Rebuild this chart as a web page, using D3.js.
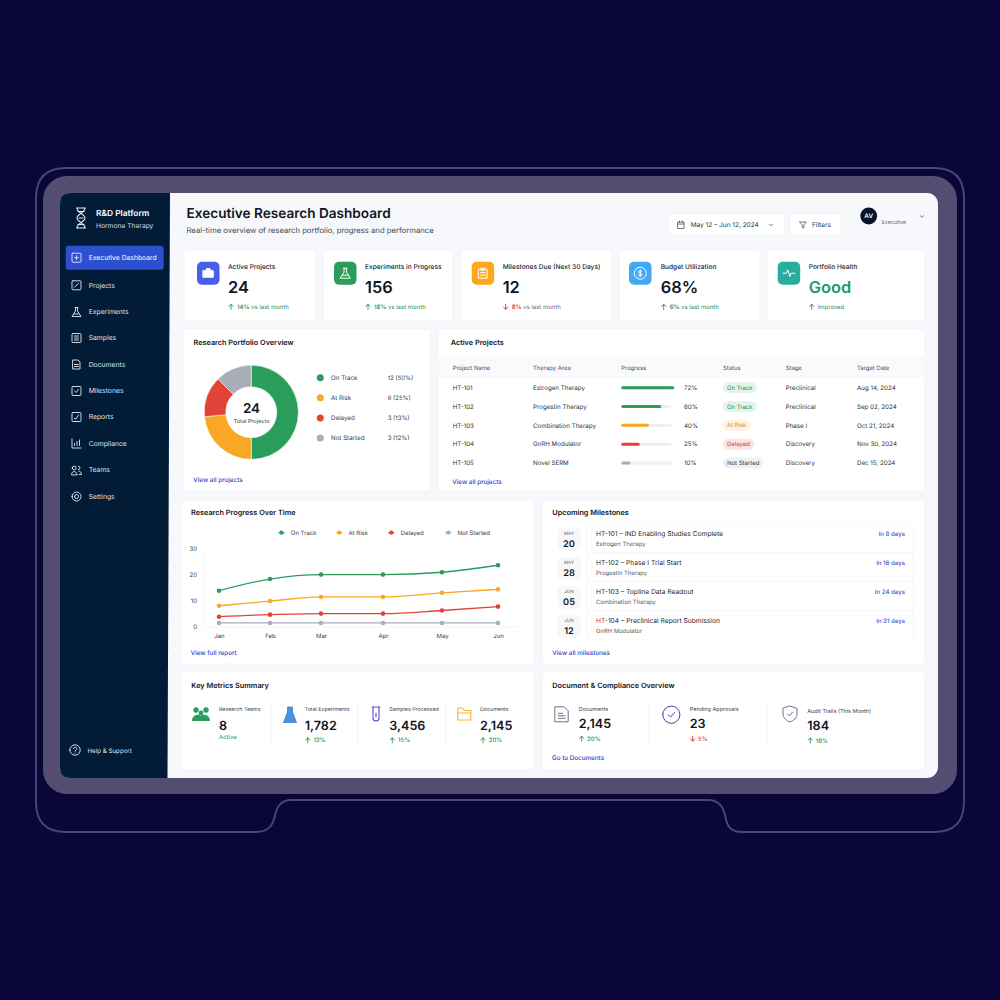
<html lang="en">
  <head>
    <meta charset="utf-8">
    <title>Executive Research Dashboard</title>
    <script src="https://d3js.org/d3.v7.min.js"></script>
    <style>
      html, body { margin: 0; padding: 0; background: #0b0638; }
      svg { display: block; }
      text { font-family: Inter, "Noto Sans", sans-serif; text-rendering: geometricPrecision; }
    </style>
  </head>
  <body>
    <script type="text/javascript">
      // data
      var navItems = ["Executive Dashboard", "Projects", "Experiments", "Samples", "Documents", "Milestones", "Reports", "Compliance", "Teams", "Settings"];
      var kpiLabels = ["Active Projects", "Experiments in Progress", "Milestones Due (Next 30 Days)", "Budget Utilization", "Portfolio Health"];
      var kpiValues = ["24", "156", "12", "68%", "Good"];
      var kpiChange = ["14%", "18%", "8%", "6%", ""];
      var kpiNotes = ["vs last month", "vs last month", "vs last month", "vs last month", "Improved"];
      var kpiDirection = ["up", "up", "down", "up", "up"];

      var portfolioStatus = ["On Track", "At Risk", "Delayed", "Not Started"];
      var portfolioLegend = ["12 (50%)", "6 (25%)", "3 (13%)", "3 (12%)"];
      var portfolioShare = [50, 23.5, 14, 12.5];

      var projectIds = ["HT-101", "HT-102", "HT-103", "HT-104", "HT-105"];
      var projectAreas = ["Estrogen Therapy", "Progestin Therapy", "Combination Therapy", "GnRH Modulator", "Novel SERM"];
      var projectProgress = [72, 60, 40, 25, 10];
      var projectStatus = ["On Track", "On Track", "At Risk", "Delayed", "Not Started"];
      var projectStage = ["Preclinical", "Preclinical", "Phase I", "Discovery", "Discovery"];
      var projectDates = ["Aug 14, 2024", "Sep 02, 2024", "Oct 21, 2024", "Nov 30, 2024", "Dec 15, 2024"];
      var tableHeads = ["Project Name", "Therapy Area", "Progress", "Status", "Stage", "Target Date"];

      var months = ["Jan", "Feb", "Mar", "Apr", "May", "Jun"];
      var onTrack = [13.8, 18.3, 20, 20, 20.9, 23.6];
      var atRisk = [8, 9.8, 11.4, 11.4, 13, 14.3];
      var delayed = [3.8, 4.6, 5, 5, 6.2, 7.7];
      var notStarted = [1.4, 1.4, 1.4, 1.4, 1.4, 1.4];
      var yTicks = [0, 10, 20, 30];

      var msMonths = ["MAY", "MAY", "JUN", "JUN"];
      var msDays = ["20", "28", "05", "12"];
      var msTitles = ["HT-101 – IND Enabling Studies Complete", "HT-102 – Phase I Trial Start", "HT-103 – Topline Data Readout", "HT-104 – Preclinical Report Submission"];
      var msAreas = ["Estrogen Therapy", "Progestin Therapy", "Combination Therapy", "GnRH Modulator"];
      var msDue = ["In 8 days", "In 16 days", "In 24 days", "In 31 days"];

      var metricLabels = ["Research Teams", "Total Experiments", "Samples Processed", "Documents"];
      var metricValues = ["8", "1,782", "3,456", "2,145"];
      var metricNotes = ["Active", "12%", "15%", "20%"];

      var docLabels = ["Documents", "Pending Approvals", "Audit Trails (This Month)"];
      var docValues = ["2,145", "23", "184"];
      var docChange = ["20%", "5%", "18%"];
      var docDirection = ["up", "down", "up"];

      var green = "#2a9d5c", amber = "#f9a825", red = "#e04436", grey = "#a9adb8";
      var link = "#2f3fc7", ink = "#11151f", body = "#343a46", muted = "#6b7280", upGreen = "#2b9160";

      var statusColor = d3.scaleOrdinal().domain(portfolioStatus).range([green, amber, red, grey]);
      var pillFill = d3.scaleOrdinal().domain(portfolioStatus).range(["#e4f5ea", "#fdf2e2", "#fbe4e4", "#eef0f4"]);
      var pillText = d3.scaleOrdinal().domain(portfolioStatus).range(["#1f8a55", "#e58a2c", "#d9363e", "#3a414d"]);

      var svg = d3.select("body").append("svg").attr("width", 1000).attr("height", 1000);

      function txt(g, x, y, s, size, weight, fill, anchor) {
        return g.append("text").attr("x", x).attr("y", y).text(s)
          .attr("font-size", size).attr("font-weight", weight || 400)
          .attr("fill", fill || body).attr("text-anchor", anchor || "start");
      }
      function card(x, y, w, h) {
        return svg.append("rect").attr("x", x).attr("y", y).attr("width", w).attr("height", h)
          .attr("rx", 3).attr("fill", "#fff").attr("stroke", "#eff1f6").attr("stroke-width", 0.7);
      }
      function icon(g, x, y, paths, color, sw, fill) {
        var i = g.append("g").attr("transform", "translate(" + x + "," + y + ")");
        paths.forEach(function(p) {
          i.append("path").attr("d", p).attr("fill", fill || "none").attr("stroke", color)
            .attr("stroke-width", sw || 1).attr("stroke-linecap", "round").attr("stroke-linejoin", "round");
        });
        return i;
      }
      function arrow(g, x, y, dir, color) {
        var d = dir == "up" ? "M0,2.6V-2.4M-2.1,-0.3L0,-2.6L2.1,-0.3" : "M0,-2.6V2.4M-2.1,0.3L0,2.6L2.1,0.3";
        icon(g, x, y, [d], color, 0.9);
      }
      function circlePath(r) {
        return "M" + (-r) + ",0A" + r + "," + r + " 0 1 1 " + r + ",0A" + r + "," + r + " 0 1 1 " + (-r) + ",0Z";
      }

      // device frame
      svg.append("rect").attr("width", 1000).attr("height", 1000).attr("fill", "#0b0638");
      svg.append("path")
        .attr("d", "M66,168H934Q964,168 964,198V802Q964,832 934,832H742C730,832 727,826 725,815C723,806 718,800 708,800H291C281,800 277,806 275,815C273,826 268,832 256,832H66Q36,832 36,802V198Q36,168 66,168Z")
        .attr("fill", "none").attr("stroke", "#4a4573").attr("stroke-width", 1.9);
      svg.append("rect").attr("x", 43).attr("y", 176).attr("width", 914).attr("height", 618).attr("rx", 24).attr("fill", "#534d72");
      svg.append("rect").attr("x", 60).attr("y", 193).attr("width", 878).attr("height", 585).attr("rx", 11).attr("fill", "#f6f8fb");
      svg.append("path").attr("d", "M170,193H71Q60,193 60,204V767Q60,778 71,778H167.5Z").attr("fill", "#021b36");

      // sidebar
      var side = svg.append("g");
      icon(side, 81, 218, ["M-4,-10C-4,-5 4,-4 4,0C4,4 -4,5 -4,10", "M4,-10C4,-5 -4,-4 -4,0C-4,4 4,5 4,10", "M-4,-10H4M-3,-6.5H3M-2,0H2M-3,6.5H3M-4,10H4"], "#e9edf5", 1.1);
      txt(side, 96, 216, "R&D Platform", 8.4, 600, "#fff");
      txt(side, 96, 228, "Hormone Therapy", 6.7, 400, "#d5dbe6");
      side.append("rect").attr("x", 65.7).attr("y", 245.7).attr("width", 98).attr("height", 24).attr("rx", 3).attr("fill", "#2d4fd0");
      var navY = [257.7, 285.3, 312, 338, 364.5, 391, 417, 443.5, 470, 496.5];
      var box = "M-3.5,-4.5H3.5Q4.5,-4.5 4.5,-3.5V3.5Q4.5,4.5 3.5,4.5H-3.5Q-4.5,4.5 -4.5,3.5V-3.5Q-4.5,-4.5 -3.5,-4.5Z";
      var navIcons = [
        [box, "M0,-2V2M-2,0H2"], [box, "M-2,2L2,-2"],
        ["M-1.5,-4.5H1.5M-1,-4.5V-1L-4.5,4.5H4.5L1,-1V-4.5", "M-2.5,2H2.5"],
        [box, "M-2,-2H2M-2,0H2M-2,2H2"],
        ["M-3.5,-4.5H1.5L3.5,-2.5V4.5H-3.5Z", "M-2,0H2M-2,2H2"],
        [box, "M-2,0L-0.5,1.5L2,-1.5"], [box, "M-2,1.5L-0.5,2L2,-2"],
        ["M-4.5,-4.5V4.5H4.5", "M-2,2V0M0.5,2V-2M3,2V-3.5"],
        ["M-4.2,-2A1.9,1.9 0 1 1 -0.4,-2A1.9,1.9 0 1 1 -4.2,-2Z", "M-5,4.5C-5,0.5 0.2,0.5 0.6,4.5Z", "M1.8,-3.8A1.7,1.7 0 1 1 1.8,-0.4", "M2.2,1C4,1.2 5,2.6 5,4.5H2.6"],
        [circlePath(2), circlePath(4.5)]
      ];
      navItems.forEach(function(n, i) {
        icon(side, 76.5, navY[i], navIcons[i], "#e6eaf2", 0.9);
        txt(side, 88.7, navY[i] + 2.4, n, 6.8, 400, i == 0 ? "#fff" : "#dfe4ee");
      });
      icon(side, 75, 750, [circlePath(5.2), "M-1.6,-1.4C-1.6,-3.4 1.8,-3.4 1.8,-1.2C1.8,0.2 0,0 0,1.4", "M0,3V3.1"], "#e6eaf2", 0.9);
      txt(side, 87.5, 752.5, "Help & Support", 6.2, 400, "#e3e7f0");

      // header
      var head = svg.append("g");
      txt(head, 186.5, 217.5, "Executive Research Dashboard", 13.6, 600, ink);
      txt(head, 186.5, 232.8, "Real-time overview of research portfolio, progress and performance", 7.7, 400, "#444b58");
      [[668.3, 116], [789.7, 51.6]].forEach(function(b) {
        head.append("rect").attr("x", b[0]).attr("y", 213.3).attr("width", b[1]).attr("height", 22).attr("rx", 3)
          .attr("fill", "#fff").attr("stroke", "#e9ecf2").attr("stroke-width", 0.7);
      });
      icon(head, 681, 225, ["M-3,-3H3V3.5H-3Z", "M-3,-1H3M-1.5,-4V-2.5M1.5,-4V-2.5"], "#3b4250", 0.7);
      txt(head, 690.7, 227.3, "May 12 – Jun 12, 2024", 6.5, 400, "#2c3340");
      icon(head, 771, 225, ["M-1.8,-0.8L0,0.8L1.8,-0.8"], "#4b5260", 0.7);
      icon(head, 803, 225, ["M-3.2,-3H3.2L0.8,0V3.2L-0.8,2.4V0Z"], "#3b4250", 0.7);
      txt(head, 812, 227.3, "Filters", 6.5, 400, "#2c3340");
      head.append("circle").attr("cx", 868.7).attr("cy", 216).attr("r", 8.4).attr("fill", "#06122b");
      txt(head, 868.7, 218.3, "AV", 6.3, 600, "#fff", "middle");
      txt(head, 881.7, 223.6, "Executive", 5.3, 400, "#606773");
      icon(head, 922, 216.5, ["M-1.6,-0.7L0,0.7L1.6,-0.7"], "#4b5260", 0.7);

      // kpi cards
      var kpiBox = [[184, 132], [323, 130], [461, 151], [619, 141], [767, 158]];
      var kpiIconX = [197, 334, 471.7, 629, 777.7];
      var kpiTextX = [228, 365, 502.7, 660.7, 808.7];
      var kpiFill = ["#4a5ee8", green, "#fba81f", "#45a8f5", "#27ae9e"];
      var kpiGlyph = [
        ["M-5,-2.5H5V4H-5Z", "M-2,-2.5V-4.5H2V-2.5", "M-5,0.5H5"],
        ["M-1.8,-5H1.8M-1.2,-5V-1L-5,5H5L1.2,-1V-5", "M-3,2H3"],
        ["M-4.2,-4H4.2V5H-4.2Z", "M-1.8,-5H1.8V-3H-1.8Z", "M-2.5,-0.5H2.5M-2.5,2H2.5"],
        [circlePath(6), "M1.7,-1.7C0.8,-3 -2,-2.6 -1.8,-1C-1.6,0.6 1.8,-0.4 1.8,1.3C1.8,2.9 -1,3.1 -1.9,1.8", "M0,-3.5V3.5"],
        ["M-6,0H-2.6L-1.2,-3.4L1,3.4L2.2,0H6"]
      ];
      kpiLabels.forEach(function(l, i) {
        card(kpiBox[i][0], 250, kpiBox[i][1], 71);
        var g = svg.append("g");
        g.append("rect").attr("x", kpiIconX[i]).attr("y", 261.7).attr("width", 22.5).attr("height", 23).attr("rx", 5).attr("fill", kpiFill[i]);
        icon(g, kpiIconX[i] + 11.25, 273.2, kpiGlyph[i], "#fff", 1, i == 0 ? "#fff" : "none");
        var x = kpiTextX[i];
        txt(g, x, 269.3, l, 6.6, 500, "#1e2430");
        txt(g, x, 293, kpiValues[i], 16.4, 600, i == 4 ? "#1b9a6c" : ink);
        var col = kpiDirection[i] == "up" ? upGreen : "#d9363e";
        arrow(g, x + 3, 306.8, kpiDirection[i], col);
        var t = txt(g, x + 9, 309, "", 6, 400, i == 2 ? muted : upGreen);
        if (kpiChange[i]) t.append("tspan").attr("font-weight", 600).attr("fill", col).text(kpiChange[i] + " ");
        t.append("tspan").text(kpiNotes[i]);
      });

      // portfolio donut
      card(183, 329, 247, 162);
      var pg = svg.append("g");
      txt(pg, 193.5, 345, "Research Portfolio Overview", 7.3, 600, ink);
      var pie = d3.pie().sort(null).value(function(d) { return d; });
      var arc = d3.arc().innerRadius(25.5).outerRadius(47);
      var donut = pg.append("g").attr("transform", "translate(251.3,412.3)");
      donut.selectAll("path").data(pie(portfolioShare)).enter().append("path")
        .attr("d", arc)
        .attr("fill", function(d, i) { return statusColor(portfolioStatus[i]); })
        .attr("stroke", "#fff").attr("stroke-width", 0.5);
      txt(pg, 251.5, 413, "24", 13.5, 600, ink, "middle");
      txt(pg, 251.5, 422.6, "Total Projects", 5.6, 400, body, "middle");
      var legendY = d3.scalePoint().domain(portfolioStatus).range([377.7, 438]);
      portfolioStatus.forEach(function(s, i) {
        pg.append("circle").attr("cx", 320.3).attr("cy", legendY(s)).attr("r", 3.5).attr("fill", statusColor(s));
        txt(pg, 331, legendY(s) + 2.2, s, 6.2, 400, body);
        txt(pg, 387.7, legendY(s) + 2.2, portfolioLegend[i], 6, 400, body);
      });
      txt(pg, 193.3, 481.7, "View all projects", 6.3, 500, link);

      // active projects table
      card(438, 329, 487, 162);
      var tg = svg.append("g");
      txt(tg, 450.7, 345, "Active Projects", 7.3, 600, ink);
      tg.append("rect").attr("x", 439).attr("y", 357).attr("width", 485).attr("height", 21).attr("fill", "#f9fafc");
      var colX = [452.7, 533, 621.3, 722.7, 785.7, 857];
      tableHeads.forEach(function(h, i) {
        txt(tg, i == 3 ? 723 : colX[i], 370.1, h, 5.9, 400, "#4a515e");
      });
      var rowY = d3.scalePoint().domain(projectIds).range([387.7, 463]);
      var barW = d3.scaleLinear().domain([0, 60, 72]).range([0, 37, 50]);
      projectIds.forEach(function(id, i) {
        var y = rowY(id);
        txt(tg, colX[0], y + 2.2, id, 6.2, 400, "#2a303c");
        txt(tg, colX[1], y + 2.2, projectAreas[i], 6.2, 400, "#2a303c");
        tg.append("line").attr("x1", 622.8).attr("x2", 670).attr("y1", y).attr("y2", y)
          .attr("stroke", "#eceef2").attr("stroke-width", 3).attr("stroke-linecap", "round");
        tg.append("line").attr("x1", 622.8).attr("x2", 622.8 + barW(projectProgress[i])).attr("y1", y).attr("y2", y)
          .attr("stroke", statusColor(projectStatus[i])).attr("stroke-width", 3).attr("stroke-linecap", "round");
        txt(tg, 684, y + 2.2, projectProgress[i] + "%", 6.2, 400, "#2a303c");
        var pill = tg.append("rect").attr("x", colX[3]).attr("y", y - 5.5).attr("height", 11).attr("rx", 5.5).attr("fill", pillFill(projectStatus[i]));
        var st = txt(tg, colX[3] + 4.2, y + 2.1, projectStatus[i], 6, 400, pillText(projectStatus[i]));
        pill.attr("width", st.node().getComputedTextLength() + 8.4);
        txt(tg, colX[4], y + 2.2, projectStage[i], 6.2, 400, "#2a303c");
        txt(tg, colX[5], y + 2.2, projectDates[i], 6.2, 400, "#2a303c");
      });
      txt(tg, 452.3, 483.5, "View all projects", 6.3, 500, link);

      // research progress line chart
      card(181, 500, 353, 164);
      var lg = svg.append("g");
      txt(lg, 191, 515.2, "Research Progress Over Time", 7.3, 600, ink);
      var xScale = d3.scaleOrdinal().domain(months).range([219, 270, 321, 383, 442, 498]);
      var yScale = d3.scaleLinear().domain([0, 30]).range([626.6, 548.6]);
      var xAxis = d3.axisBottom().scale(xScale).tickSize(0).tickPadding(7);
      var yAxis = d3.axisLeft().scale(yScale).tickValues(yTicks).tickSize(0).tickPadding(6);
      lg.append("line").attr("x1", 204).attr("x2", 519).attr("y1", 627).attr("y2", 627).attr("stroke", "#f0f2f6").attr("stroke-width", 0.8);
      lg.append("line").attr("x1", 204).attr("x2", 204).attr("y1", 548).attr("y2", 627).attr("stroke", "#f3f4f8").attr("stroke-width", 0.8);
      var ax = lg.append("g").attr("transform", "translate(0,627)").call(xAxis);
      var ay = lg.append("g").attr("transform", "translate(203,0)").call(yAxis);
      [ax, ay].forEach(function(a) {
        a.select(".domain").remove();
        a.selectAll("text").attr("font-family", "Inter").attr("font-size", 6).attr("fill", "#343a46");
      });
      var allSeries = [onTrack, atRisk, delayed, notStarted];
      var line = d3.line()
        .x(function(d, i) { return xScale(months[i]); })
        .y(function(d) { return yScale(d); })
        .curve(d3.curveMonotoneX);
      allSeries.slice().reverse().forEach(function(vals, k) {
        var col = statusColor(portfolioStatus[3 - k]);
        lg.append("path").attr("d", line(vals)).attr("fill", "none").attr("stroke", col).attr("stroke-width", 1.3);
        lg.selectAll(null).data(vals).enter().append("circle")
          .attr("cx", function(d, i) { return xScale(months[i]); })
          .attr("cy", function(d) { return yScale(d); })
          .attr("r", 2.3).attr("fill", col);
      });
      var keyX = [281.5, 339.3, 391.3, 448.3];
      portfolioStatus.forEach(function(s, i) {
        lg.append("line").attr("x1", keyX[i] - 3).attr("x2", keyX[i] + 3).attr("y1", 532.7).attr("y2", 532.7)
          .attr("stroke", statusColor(s)).attr("stroke-width", 1.2);
        lg.append("circle").attr("cx", keyX[i]).attr("cy", 532.7).attr("r", 2.1).attr("fill", statusColor(s));
        txt(lg, keyX[i] + 9.3, 534.9, s, 6, 400, "#3a414d");
      });
      txt(lg, 190.7, 654.5, "View full report", 6.3, 500, link);

      // upcoming milestones
      card(542, 500, 383, 164);
      var mg = svg.append("g");
      txt(mg, 552.3, 515.2, "Upcoming Milestones", 7.3, 600, ink);
      mg.append("rect").attr("x", 586.7).attr("y", 523.3).attr("width", 326.6).attr("height", 116.7).attr("rx", 3)
        .attr("fill", "#fff").attr("stroke", "#f1f3f7").attr("stroke-width", 0.7);
      var msY = [533.3, 562.3, 591.3, 620.3];
      msTitles.forEach(function(t, i) {
        var y = msY[i];
        mg.append("rect").attr("x", 557.3).attr("y", y - 5).attr("width", 23.4).attr("height", 22).attr("rx", 3).attr("fill", "#f7f8fa");
        txt(mg, 569, y + 1.7, msMonths[i], 4.6, 400, "#5b626e", "middle");
        txt(mg, 569, y + 13.6, msDays[i], 9.2, 600, ink, "middle");
        var tt = txt(mg, 596, y + 2.3, "", 6.7, 400, "#1f2530");
        if (i == 3) {
          tt.append("tspan").attr("fill", "#c0263a").text(t.slice(0, 3));
          tt.append("tspan").text(t.slice(3));
        } else {
          tt.text(t);
        }
        txt(mg, 596, y + 13, msAreas[i], 5.9, 400, "#555c68");
        txt(mg, 905, y + 3, msDue[i], 6.1, 500, "#3d55cf", "end");
        if (i < 3) mg.append("line").attr("x1", 587).attr("x2", 913).attr("y1", y + 19.3).attr("y2", y + 19.3).attr("stroke", "#f1f3f7").attr("stroke-width", 0.7);
      });
      txt(mg, 552.3, 654.5, "View all milestones", 6.3, 500, link);

      // key metrics
      card(181, 672, 353, 98);
      var kg = svg.append("g");
      txt(kg, 191.3, 687.8, "Key Metrics Summary", 7.3, 600, ink);
      [270.7, 357.7, 445.7].forEach(function(x) {
        kg.append("line").attr("x1", x).attr("x2", x).attr("y1", 700).attr("y2", 748).attr("stroke", "#eef0f4").attr("stroke-width", 0.7);
      });
      var metricX = [219, 304.7, 389.3, 480];
      metricLabels.forEach(function(l, i) {
        var x = metricX[i];
        txt(kg, x, 711.3, l, 5.3, 400, "#3a414d");
        txt(kg, x, 729.6, metricValues[i], 12.6, 600, ink);
        if (i == 0) {
          txt(kg, x, 739.4, metricNotes[i], 6, 400, upGreen);
        } else {
          arrow(kg, x + 3, 740.3, "up", upGreen);
          txt(kg, x + 8.7, 742.4, metricNotes[i], 6, 500, upGreen);
        }
      });
      // people, flask, tube, folder
      var people = kg.append("g").attr("fill", green);
      [[196, 710], [206, 710], [201, 713]].forEach(function(c, i) {
        people.append("circle").attr("cx", c[0]).attr("cy", c[1]).attr("r", i == 2 ? 2.4 : 2.7);
      });
      people.append("path").attr("d", "M192,721C192,714 200,713.5 201,716C202,713.5 210,714 210,721Z");
      kg.append("path").attr("d", "M287.5,707H292.5V712L296.5,722.5H283.5L287.5,712Z").attr("fill", "#4a90e2").attr("stroke", "#3b7fd3").attr("stroke-width", 0.8);
      icon(kg, 376, 714, ["M-3.8,-7H3.8M-3,-7V4A3,3 0 0 0 3,4V-7", "M0,-1V3"], "#5a45c4", 1.1);
      icon(kg, 464.3, 714, ["M-6.5,-6H-2L0,-3.5H6.5V6H-6.5Z", "M-6.5,-1H6.5"], "#f9b233", 1.1);

      // documents and compliance
      card(542, 672, 383, 98);
      var dg = svg.append("g");
      txt(dg, 552.3, 687.8, "Document & Compliance Overview", 7.3, 600, ink);
      [648.3, 766.7].forEach(function(x) {
        dg.append("line").attr("x1", x).attr("x2", x).attr("y1", 700).attr("y2", 745).attr("stroke", "#eef0f4").attr("stroke-width", 0.7);
      });
      var docX = [578.7, 689.7, 807.3];
      var docBase = [727.7, 727.7, 729.5];
      docLabels.forEach(function(l, i) {
        var x = docX[i];
        var b = docBase[i];
        var col = docDirection[i] == "up" ? upGreen : "#d9363e";
        txt(dg, x, b - 17, l, 5.5, 400, "#3a414d");
        txt(dg, x, b, docValues[i], 12.6, 600, ink);
        arrow(dg, x + 3, b + 11, docDirection[i], col);
        txt(dg, x + 8.4, b + 13.1, docChange[i], 6, 500, col);
      });
      icon(dg, 561.7, 714.3, ["M-6.5,-7.5H2.5L6.5,-3.5V7.5H-6.5Z", "M-3.5,-1H1M-3.5,1.5H3.5M-3.5,4H3.5"], "#6b7285", 1);
      icon(dg, 671.3, 714.7, [circlePath(8.6), "M-3.2,0L-0.8,2.4L3.2,-2.2"], "#4b3bb0", 1);
      icon(dg, 790, 714, ["M0,-8L7,-5.5V0C7,4 3.5,6.5 0,8C-3.5,6.5 -7,4 -7,0V-5.5Z", "M-2.6,0L-0.6,2L2.6,-1.8"], "#6b7285", 1);
      txt(dg, 552, 759.9, "Go to Documents", 6.3, 500, link);
    </script>
  </body>
</html>
